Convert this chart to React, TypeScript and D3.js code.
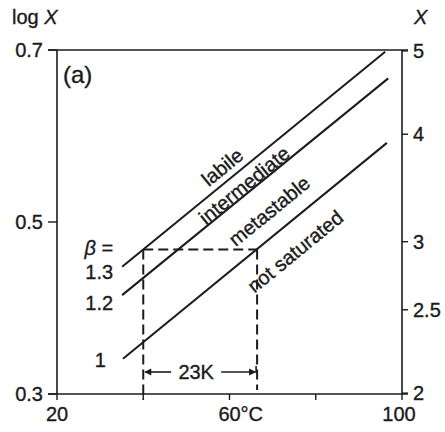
import React from 'react';
import * as d3 from 'd3';

// axes
const tempDomain = [20, 100];
const logXDomain = [0.3, 0.7];
const tempTicks = [20, 40, 60, 80, 100];
const logXTicks = [0.3, 0.5, 0.7];
const xRightTicks = [2, 2.5, 3, 4, 5];

// solubility (beta = 1) and supersaturation lines
const beta1Temps = [35.3, 96.5];
const beta1LogX = [0.341, 0.592];
const beta12Temps = [35.1, 96.8];
const beta12LogX = [0.415, 0.667];
const beta13Temps = [35.1, 96.1];
const beta13LogX = [0.448, 0.698];
const betaNames = ['1', '1.2', '1.3'];

// zone labels (centre in data units)
const zoneNames = ['labile', 'intermediate', 'metastable', 'not saturated'];
const zoneTemps = [58.3, 63.4, 69.2, 75.2];
const zoneLogX = [0.564, 0.543, 0.513, 0.466];

// 23K construction
const dashTemps = [40, 66.4];
const dashLogX = 0.468;
const arrowLogX = 0.3256;

const FONT = '"Liberation Sans", Arial, Helvetica, sans-serif';
const INK = '#1b1b1b';

export default function App() {
  const width = 445;
  const height = 432;
  const margin = { top: 50, right: 43, bottom: 38, left: 57 };

  const x = d3.scaleLinear().domain(tempDomain).range([margin.left, width - margin.right]);
  const y = d3.scaleLinear().domain(logXDomain).range([height - margin.bottom, margin.top]);

  const line = d3
    .line<[number, number]>()
    .x(d => x(d[0]))
    .y(d => y(d[1]));

  const series = [
    { name: betaNames[0], temps: beta1Temps, vals: beta1LogX, dx: -17, dy: 1 },
    { name: betaNames[1], temps: beta12Temps, vals: beta12LogX, dx: -9, dy: 8 },
    { name: betaNames[2], temps: beta13Temps, vals: beta13LogX, dx: -9, dy: 5 }
  ];

  const angle =
    (Math.atan2(y(beta1LogX[1]) - y(beta1LogX[0]), x(beta1Temps[1]) - x(beta1Temps[0])) * 180) /
    Math.PI;

  const x0 = x(tempDomain[0]);
  const x1 = x(tempDomain[1]);
  const y0 = y(logXDomain[0]);
  const y1 = y(logXDomain[1]);

  const ay = y(arrowLogX);
  const aL = x(dashTemps[0]);
  const aR = x(dashTemps[1]);
  const aMid = (aL + aR) / 2;

  return (
    <svg
      width={width}
      height={height}
      style={{ position: 'absolute', left: 0, top: 0, background: '#fff' }}
      fontFamily={FONT}
      fontSize={20}
      fill={INK}>
      {/* frame */}
      <g stroke={INK} strokeWidth={1.6} fill="none">
        <line x1={x0 - 9} x2={x1 + 6} y1={y0} y2={y0} />
        <line x1={x0 - 9} x2={x1 + 6} y1={y1} y2={y1} />
        <line x1={x0} x2={x0} y1={y1} y2={y0} />
        <line x1={x1} x2={x1} y1={y1} y2={y0} />
      </g>

      {/* bottom ticks */}
      {tempTicks.map(t => (
        <line key={t} x1={x(t)} x2={x(t)} y1={y0} y2={y0 + 6} stroke={INK} strokeWidth={1.4} />
      ))}

      <g stroke={INK} strokeWidth={0.35}>
        <text x={x(20)} y={421} textAnchor="middle">20</text>
        <text x={x(60)} y={421} textAnchor="middle">60</text>
        <text x={x(60) + 11} y={421}>°C</text>
        <text x={x(100) - 3} y={421} textAnchor="middle">100</text>

        {/* left ticks */}
        {logXTicks.map(v => (
          <g key={v}>
            <line x1={x0 - 9} x2={x0} y1={y(v)} y2={y(v)} strokeWidth={1.4} />
            <text x={x0 - 14} y={y(v)} dy="0.36em" textAnchor="end">{d3.format('.1f')(v)}</text>
          </g>
        ))}

        {/* right ticks, X on log scale */}
        {xRightTicks.map(v => (
          <g key={v}>
            <line x1={x1} x2={x1 + 6} y1={y(Math.log10(v))} y2={y(Math.log10(v))} strokeWidth={1.4} />
            <text x={x1 + 11} y={y(Math.log10(v))} dy="0.36em">{String(v)}</text>
          </g>
        ))}

        {/* axis titles */}
        <text x={12} y={24}>
          log <tspan fontStyle="italic">X</tspan>
        </text>
        <text x={414} y={24} fontStyle="italic">X</text>
        <text x={63} y={83} fontSize={24}>(a)</text>

        {/* beta labels */}
        {series.map(s => (
          <text
            key={s.name}
            x={x(s.temps[0]) + s.dx}
            y={y(s.vals[0]) + s.dy}
            dy="0.36em"
            textAnchor="end">
            {s.name}
          </text>
        ))}
        <text x={x(beta13Temps[0]) - 9} y={y(beta13LogX[0]) - 19} dy="0.36em" textAnchor="end">
          <tspan fontStyle="italic">β</tspan> =
        </text>

        {/* zone labels */}
        {zoneNames.map((n, i) => (
          <text
            key={n}
            transform={`translate(${x(zoneTemps[i])},${y(zoneLogX[i])}) rotate(${angle})`}
            dy="0.36em"
            textAnchor="middle">
            {n}
          </text>
        ))}

        <text x={aMid - 4} y={ay} dy="0.36em" textAnchor="middle">23K</text>
      </g>

      {/* beta lines */}
      {series.map(s => {
        const pts: [number, number][] = s.temps.map((t, i) => [t, s.vals[i]]);
        return <path key={s.name} d={line(pts) || ''} stroke={INK} strokeWidth={2} fill="none" />;
      })}

      {/* dashed construction */}
      <g stroke={INK} strokeWidth={2} strokeDasharray="10,5" fill="none">
        <line x1={aL} x2={aR} y1={y(dashLogX)} y2={y(dashLogX)} />
        <line x1={aL} x2={aL} y1={y(dashLogX)} y2={y0 + 6} />
        <line x1={aR} x2={aR} y1={y(dashLogX)} y2={y0 - 4} />
      </g>

      {/* 23K arrow */}
      <g stroke={INK} strokeWidth={1.6}>
        <line x1={aL + 2} x2={aMid - 29} y1={ay} y2={ay} />
        <line x1={aMid + 21} x2={aR - 2} y1={ay} y2={ay} />
        <line x1={aR - 1} x2={aR - 1} y1={ay - 6} y2={ay + 1} />
      </g>
      <path d={`M${aL + 1},${ay} l7,-3.5 v7 z`} fill={INK} />
      <path d={`M${aR - 1},${ay} l-7,-3.5 v7 z`} fill={INK} />
    </svg>
  );
}
